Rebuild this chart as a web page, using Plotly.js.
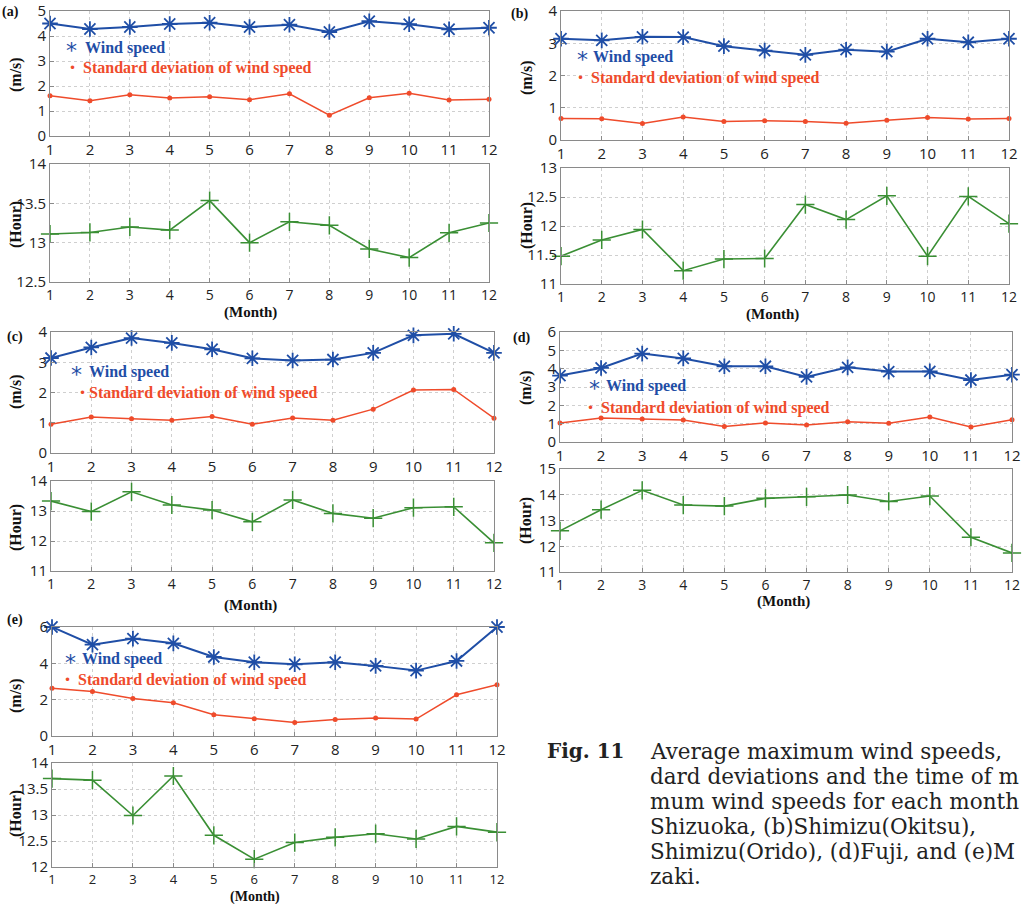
<!DOCTYPE html>
<html><head><meta charset="utf-8">
<script src="https://cdn.plot.ly/plotly-3.0.1.min.js"></script>
<style>body{margin:0;background:#fff}</style>
</head><body><div id="chart" style="width:1024px;height:904px"></div>
<script>
const months = [1,2,3,4,5,6,7,8,9,10,11,12];
const windA = [4.50,4.28,4.36,4.48,4.53,4.36,4.45,4.16,4.59,4.47,4.27,4.33];
const sdA   = [1.61,1.41,1.65,1.52,1.57,1.45,1.69,0.83,1.53,1.71,1.44,1.47];
const hourA = [13.11,13.13,13.20,13.16,13.535,13.00,13.265,13.22,12.92,12.81,13.125,13.25];
const windB = [3.14,3.09,3.20,3.19,2.91,2.77,2.64,2.80,2.74,3.14,3.03,3.14];
const sdB   = [0.67,0.66,0.51,0.71,0.57,0.60,0.57,0.52,0.61,0.70,0.65,0.67];
const hourB = [11.48,11.76,11.94,11.23,11.43,11.44,12.37,12.11,12.52,11.48,12.51,12.04];
const windC = [3.14,3.49,3.80,3.64,3.43,3.13,3.06,3.09,3.31,3.89,3.94,3.31];
const sdC   = [0.95,1.19,1.13,1.08,1.21,0.95,1.16,1.08,1.45,2.08,2.10,1.15];
const hourC = [13.33,12.98,13.64,13.20,13.03,12.64,13.37,12.92,12.76,13.11,13.14,11.94];
const windD = [3.62,4.04,4.82,4.56,4.13,4.13,3.55,4.07,3.84,3.85,3.38,3.67];
const sdD   = [1.04,1.31,1.25,1.20,0.85,1.04,0.93,1.11,1.02,1.36,0.82,1.22];
const hourD = [12.60,13.42,14.17,13.60,13.56,13.86,13.92,13.99,13.74,13.95,12.35,11.74];
const windE = [6.00,5.03,5.36,5.10,4.35,4.06,3.95,4.06,3.86,3.60,4.13,6.00];
const sdE   = [2.63,2.45,2.07,1.83,1.17,0.95,0.75,0.91,0.99,0.93,2.27,2.82];
const hourE = [13.70,13.67,12.99,13.75,12.61,12.15,12.47,12.57,12.64,12.54,12.78,12.67];

const panelLabels = ['(a)','(b)','(c)','(d)','(e)'];
const speedTicks = [[0,1,2,3,4,5],[0,1,2,3,4],[0,1,2,3,4],[0,1,2,3,4,5,6],[0,2,4,6]];
const hourTicks = [[12.5,13,13.5,14],[11,11.5,12,12.5,13],[11,12,13,14],[11,12,13,14,15],[12,12.5,13,13.5,14]];
const speedLabel = '(m/s)';
const hourLabel = '(Hour)';
const monthLabel = '(Month)';
const windName = 'Wind speed';
const sdName = 'Standard deviation of wind speed';
const captionHead = 'Fig. 11';
const captionLines = ['Average maximum wind speeds,','dard deviations and the time of m','mum wind speeds for each month','Shizuoka, (b)Shimizu(Okitsu),','Shimizu(Orido), (d)Fuji, and (e)M','zaki.'];

const winds = [windA,windB,windC,windD,windE];
const sds = [sdA,sdB,sdC,sdD,sdE];
const hours = [hourA,hourB,hourC,hourD,hourE];

// layout geometry in pixels
const W = 1024, H = 904;
const geo = [
  {x:[50,489], top:[11,136], bot:[164,282], lab:[10,12], ms:[16,75], hr:[16,225], mo:[250,312], mos:15, tfs:14, lg:[71,48,72,68,83,81]},
  {x:[561,1009], top:[11,140], bot:[168,284], lab:[519,14], ms:[527,78], hr:[527,226], mo:[772,315], mos:15, tfs:14, lg:[582,57,580,78,591,589]},
  {x:[51,494], top:[332,453], bot:[481,571], lab:[15,337], ms:[16,392], hr:[16,528], mo:[250,605], mos:15, tfs:14, lg:[76,372,82,393,87,87]},
  {x:[560,1012], top:[332,442], bot:[469,572], lab:[521,338], ms:[526,388], hr:[526,521], mo:[783,601], mos:15, tfs:14, lg:[594,386,590,408,604,599]},
  {x:[52,497], top:[627,736], bot:[763,867], lab:[15,620], ms:[16,696], hr:[16,814], mo:[255,897], mos:14, tfs:13, lg:[70,659,67,680,80,76]}
];
const fx = p => p / W;
const fy = p => 1 - p / H;

const BLUE = '#1f4ea6', RED = '#ef4b2b', GREEN = '#3a8f34';
const sansFam = 'Open Sans, Liberation Sans, sans-serif';
const tickFont = {family:sansFam, size:15, color:'#222'};
const serifB = {family:'Liberation Serif, Times New Roman, serif', size:16};

function axisBase(){
  return {showline:true, linecolor:'#8a8a8a', linewidth:1, mirror:true, ticks:'inside', ticklen:4,
    tickcolor:'#8a8a8a', showgrid:true, gridcolor:'#cfcfcf', griddash:'dot', gridwidth:1,
    zeroline:false, tickfont:tickFont, fixedrange:true};
}

const traces = [];
const layout = {width:W, height:H, margin:{l:0,r:0,t:0,b:0}, showlegend:false,
  paper_bgcolor:'#fff', plot_bgcolor:'#fff', annotations:[]};

geo.forEach((g,i)=>{
  const nTop = 2*i+1, nBot = 2*i+2;
  const xs = [fx(g.x[0]), fx(g.x[1])];
  layout['xaxis'+nTop] = Object.assign(axisBase(), {domain:xs, range:[1,12], tickvals:months, anchor:'y'+nTop});
  layout['yaxis'+nTop] = Object.assign(axisBase(), {domain:[fy(g.top[1]), fy(g.top[0])],
     range:[speedTicks[i][0], speedTicks[i][speedTicks[i].length-1]], tickvals:speedTicks[i], anchor:'x'+nTop});
  layout['xaxis'+nBot] = Object.assign(axisBase(), {domain:xs, range:[1,12], tickvals:months, anchor:'y'+nBot,
     tickfont:{family:sansFam, size:g.tfs, color:'#222'}});
  layout['yaxis'+nBot] = Object.assign(axisBase(), {domain:[fy(g.bot[1]), fy(g.bot[0])],
     range:[hourTicks[i][0], hourTicks[i][hourTicks[i].length-1]], tickvals:hourTicks[i], anchor:'x'+nBot});

  traces.push({x:months, y:winds[i], xaxis:'x'+nTop, yaxis:'y'+nTop, mode:'lines+markers', cliponaxis:false,
    line:{color:BLUE, width:2}, marker:{symbol:'asterisk-open', size:13, color:BLUE, line:{color:BLUE, width:1.8}}});
  traces.push({x:months, y:sds[i], xaxis:'x'+nTop, yaxis:'y'+nTop, mode:'lines+markers', cliponaxis:false,
    line:{color:RED, width:1.5}, marker:{symbol:'circle', size:5, color:RED}});
  traces.push({x:months, y:hours[i], xaxis:'x'+nBot, yaxis:'y'+nBot, mode:'lines+markers', cliponaxis:false,
    line:{color:GREEN, width:1.6}, marker:{symbol:'cross-thin-open', size:13, color:GREEN, line:{color:GREEN, width:1.5}}});

  const A = layout.annotations;
  const pa = (x,y,text,font,extra)=>A.push(Object.assign({xref:'paper', yref:'paper', x:fx(x), y:fy(y), text:text,
     showarrow:false, font:font, xanchor:'center', yanchor:'middle'}, extra||{}));
  pa(g.lab[0], g.lab[1], '<b>'+panelLabels[i]+'</b>', {family:serifB.family, size:14, color:'#111'});
  pa(g.ms[0], g.ms[1], '<b>'+speedLabel+'</b>', {family:serifB.family, size:16, color:'#111'}, {textangle:-90});
  pa(g.hr[0], g.hr[1], '<b>'+hourLabel+'</b>', {family:serifB.family, size:16, color:'#111'}, {textangle:-90});
  pa(g.mo[0], g.mo[1], '<b>'+monthLabel+'</b>', {family:serifB.family, size:g.mos, color:'#111'});
  pa(g.lg[0], g.lg[1]+3, '*', {family:'DejaVu Sans, sans-serif', size:22, color:BLUE});
  pa(g.lg[2], g.lg[3], '•', {family:'DejaVu Sans, sans-serif', size:12, color:RED});
  pa(g.lg[4], g.lg[1], '<b>'+windName+'</b>', {family:serifB.family, size:16, color:BLUE}, {xanchor:'left'});
  pa(g.lg[5], g.lg[3], '<b>'+sdName+'</b>', {family:serifB.family, size:16, color:RED}, {xanchor:'left'});
});

// caption
layout.annotations.push({xref:'paper', yref:'paper', x:fx(545), y:fy(751), text:'<b>'+captionHead+'</b>', showarrow:false,
  xanchor:'left', yanchor:'middle', font:{family:'DejaVu Serif, serif', size:20, color:'#222'}});
captionLines.forEach((t,k)=>{
  layout.annotations.push({xref:'paper', yref:'paper', x:fx(648), y:fy(751+k*25), text:t, showarrow:false,
    xanchor:'left', yanchor:'middle', font:{family:'DejaVu Serif, serif', size:21.5, color:'#222'}});
});

Plotly.newPlot('chart', traces, layout, {displayModeBar:false, staticPlot:true});
</script></body></html>
